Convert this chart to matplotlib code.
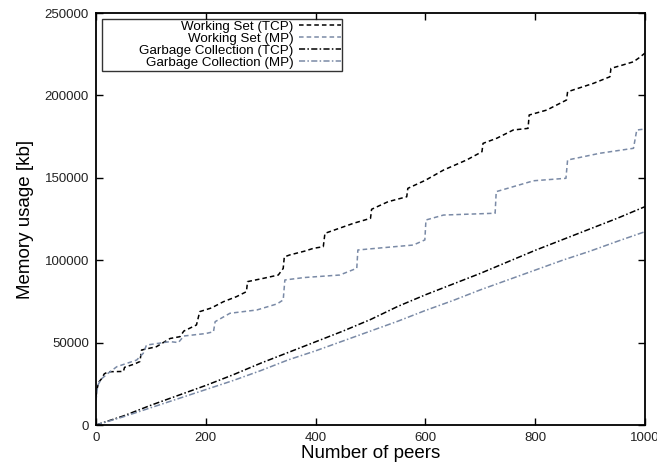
import matplotlib
matplotlib.use("Agg")
import matplotlib.pyplot as plt

plt.rcParams['font.family'] = ['Liberation Sans', 'DejaVu Sans']

ws_tcp_x = [0, 2, 5, 10, 15, 22, 50, 52, 70, 80, 83, 110, 135, 153, 160, 183, 189, 210, 232, 256,
            274, 276, 305, 332, 341, 343, 353, 380, 396, 414, 417, 440, 470, 500, 502, 532, 566,
            568, 600, 633, 675, 703, 705, 730, 760, 787, 789, 821, 857, 859, 880, 906, 936, 938,
            960, 979, 990, 1000]
ws_tcp_y = [17000, 22000, 26000, 28000, 31000, 32300, 32500, 35000, 37000, 38500, 45500, 47500,
            52500, 53600, 57000, 60700, 68800, 71000, 74800, 77900, 80900, 87000, 89000, 91000,
            95000, 102000, 103200, 105500, 107200, 108200, 116300, 119000, 122500, 125400, 130900,
            135500, 138500, 143600, 148500, 154700, 160800, 165800, 170900, 174000, 179000, 180000,
            188100, 191100, 197200, 202200, 204500, 207300, 211300, 216400, 218500, 220400, 223000,
            225700]

ws_mp_x = [0, 3, 10, 22, 38, 74, 86, 92, 135, 150, 160, 200, 214, 217, 244, 293, 330, 341, 344,
           380, 444, 475, 477, 520, 578, 599, 601, 633, 727, 729, 797, 856, 859, 918, 979, 985, 1000]
ws_mp_y = [15000, 24000, 28000, 31400, 35400, 39400, 43500, 48500, 50600, 50000, 54000, 55500,
           56600, 62700, 67800, 69800, 73500, 75900, 88000, 89500, 91000, 95100, 106200, 107500,
           109200, 112300, 124400, 127400, 128500, 141600, 148200, 149700, 160800, 164900, 167900,
           179000, 179600]

gc_x = [0, 50, 100, 150, 200, 250, 300, 350, 400, 450, 500, 550, 600, 650, 700, 750, 800, 850,
        900, 950, 1000]
gc_tcp_y = [0, 5500, 12000, 18000, 24000, 30500, 37500, 44000, 50500, 57000, 64000, 72000, 79000,
            85500, 92000, 99000, 106000, 112500, 119000, 125500, 132500]
gc_mp_y = [0, 5000, 10500, 16000, 21500, 27000, 33000, 39500, 45000, 51000, 57000, 63000, 69500,
           75500, 82000, 88000, 94000, 100000, 105500, 111500, 117300]

labels = ["Working Set (TCP)", "Working Set (MP)", "Garbage Collection (TCP)",
          "Garbage Collection (MP)"]
xticks = [0, 200, 400, 600, 800, 1000]
yticks = [0, 50000, 100000, 150000, 200000, 250000]

blue = '#7a8aa6'
fig = plt.figure(figsize=(6.57, 4.68), dpi=100)
ax = fig.add_axes([96 / 657, 43 / 468, 549 / 657, 412 / 468])

ax.plot(ws_tcp_x, ws_tcp_y, color='black', lw=1.1, dashes=(3, 2), label=labels[0])
ax.plot(ws_mp_x, ws_mp_y, color=blue, lw=1.1, dashes=(3, 2), label=labels[1])
ax.plot(gc_x, gc_tcp_y, color='black', lw=1.1, dashes=(4, 1.5, 1, 1.5), label=labels[2])
ax.plot(gc_x, gc_mp_y, color=blue, lw=1.1, dashes=(4, 1.5, 1, 1.5), label=labels[3])

ax.set_xlim(0, 1000)
ax.set_ylim(0, 250000)
ax.set_xticks(xticks)
ax.set_yticks(yticks)
ax.set_xticklabels([str(t) for t in xticks])
ax.set_yticklabels([str(t) for t in yticks])
ax.tick_params(direction='in', length=5, width=1, top=True, right=True, labelsize=9.5,
               pad=5, colors='black', labelcolor='#222222')
for s in ax.spines.values():
    s.set_linewidth(1.3)

ax.set_xlabel("Number of peers", fontsize=13.5, labelpad=1)
ax.set_ylabel("Memory usage [kb]", fontsize=13.5, labelpad=8)

leg = ax.legend(loc='upper left', bbox_to_anchor=(6 / 549, 1 - 6 / 412), markerfirst=False,
                fontsize=9.6, frameon=True, fancybox=False, edgecolor='black',
                borderpad=0.12, labelspacing=-0.02, handlelength=3.1, handletextpad=0.45,
                borderaxespad=0)
leg.get_frame().set_linewidth(1.0)
for col in leg._legend_handle_box.get_children():
    col.align = "right"
    col.width = 237

fig.savefig("out.png", dpi=100)
